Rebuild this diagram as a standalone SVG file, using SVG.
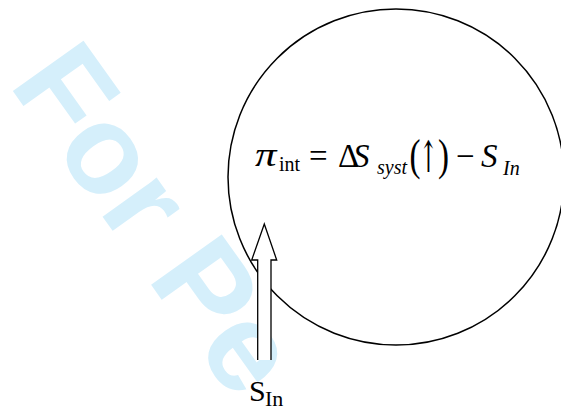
<svg xmlns="http://www.w3.org/2000/svg" width="561" height="410" viewBox="0 0 561 410">
  <style>
    .wm { font-family: "Liberation Sans", Arial, sans-serif; font-weight: bold; font-size: 126px; fill: #d5effb; }
    .m { font-family: "Liberation Serif", "DejaVu Serif", serif; fill: #000; }
    .big { font-size: 33px; }
    .sub { font-size: 20px; }
    .it { font-style: italic; }
    .ln { fill: #fff; stroke: #000; }
  </style>
  <defs>
    <clipPath id="wmclip"><rect x="0" y="0" width="282" height="410"/></clipPath>
  </defs>
  <rect width="561" height="410" fill="#fff"/>
  <g id="watermark" clip-path="url(#wmclip)">
    <text class="wm" transform="translate(8,84.2) rotate(54.5)">For Pe</text>
  </g>
  <g id="system">
    <circle class="ln" cx="396" cy="177" r="168" stroke-width="1.5"/>
    <text class="m big it" transform="translate(255,166) scale(1.3,1)">π</text>
    <text class="m">
      <tspan class="sub" x="279" y="171">int</tspan>
      <tspan class="big" x="309" y="167">=</tspan>
      <tspan class="big" x="338" y="167">Δ</tspan>
      <tspan class="big it" x="353" y="167">S</tspan>
      <tspan class="sub it" x="377" y="174">syst</tspan>
      <tspan class="big" x="456" y="167">−</tspan>
      <tspan class="big it" x="481" y="167">S</tspan>
      <tspan class="sub it" x="503" y="175">In</tspan>
    </text>
    <text class="m big" transform="translate(409.5,170) scale(1,1.35)">(</text>
    <text font-family="'DejaVu Serif', serif" font-size="30px" fill="#000" text-anchor="middle" transform="translate(428.5,172) scale(0.75,1.45)">↑</text>
    <text class="m big" transform="translate(438,170) scale(1,1.35)">)</text>
  </g>
  <g id="connectors">
    <path class="ln" stroke-width="1.3" d="M257.7,360 V260 H251.7 L264.3,224 L276.7,260 H271 V360"/>
  </g>
  <g id="label-sin">
    <text class="m"><tspan font-size="30px" x="249" y="401">S</tspan><tspan font-size="22px" x="265" y="406">In</tspan></text>
  </g>
</svg>
